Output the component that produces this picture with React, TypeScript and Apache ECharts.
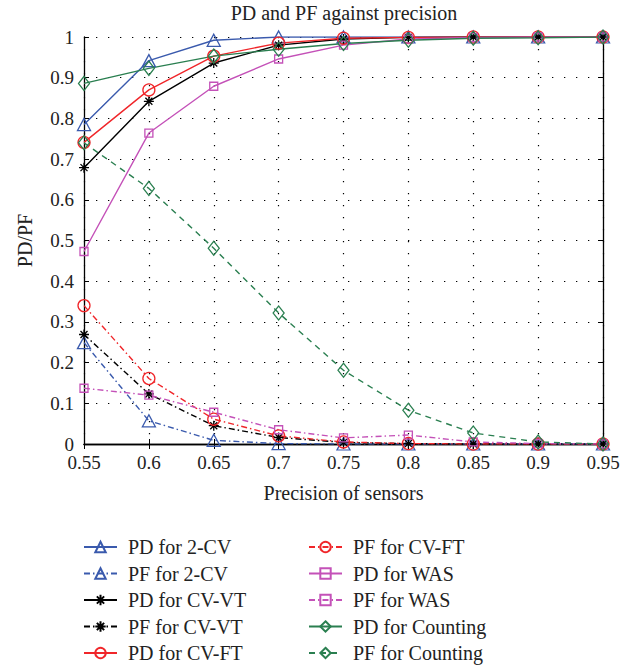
import React, { useEffect, useRef } from "react";
import * as echarts from "echarts";

// Precision of sensors (x axis)
const precision = ["0.55", "0.6", "0.65", "0.7", "0.75", "0.8", "0.85", "0.9", "0.95"];

// Probability of detection (PD) and of false alarm (PF) per scheme
const pd2cv = [0.785, 0.942, 0.992, 1, 1, 1, 1, 1, 1];
const pf2cv = [0.249, 0.057, 0.009, 0.001, 0, 0, 0, 0, 0];
const pdCvVt = [0.679, 0.842, 0.936, 0.98, 0.995, 0.999, 1, 1, 1];
const pfCvVt = [0.269, 0.123, 0.045, 0.016, 0.004, 0.001, 0, 0, 0];
const pdCvFt = [0.741, 0.87, 0.953, 0.985, 0.997, 0.999, 1, 1, 1];
const pfCvFt = [0.34, 0.161, 0.061, 0.02, 0.005, 0.001, 0, 0, 0];
const pdWas = [0.473, 0.764, 0.879, 0.946, 0.98, 0.995, 0.999, 1, 1];
const pfWas = [0.137, 0.12, 0.078, 0.035, 0.015, 0.022, 0.005, 0.001, 0];
const pdCounting = [0.886, 0.923, 0.953, 0.97, 0.984, 0.992, 0.997, 0.998, 1];
const pfCounting = [0.74, 0.628, 0.481, 0.322, 0.181, 0.083, 0.027, 0.005, 0];

const legendLeft = ["PD for 2-CV", "PF for 2-CV", "PD for CV-VT", "PF for CV-VT", "PD for CV-FT"];
const legendRight = ["PF for CV-FT", "PD for WAS", "PF for WAS", "PD for Counting", "PF for Counting"];

const BLUE = "#3a5aad";
const BLACK = "#000000";
const RED = "#f0262a";
const MAGENTA = "#c451b8";
const GREEN = "#2a7f50";

const FONT = "Liberation Serif";
const TEXT = "#222";

// eight-armed asterisk marker
const ASTERISK =
  "path://M5 0 L5 10 M0 5 L10 5 M1.5 1.5 L8.5 8.5 M1.5 8.5 L8.5 1.5";

const DASH_DOT = [6, 3, 1.5, 3];
const DASHED = [6, 5];
const GRID_DOTS = [1.3, 10.7];

type Spec = {
  name: string;
  data: number[];
  color: string;
  symbol: string;
  size: number | number[];
  dash: "solid" | number[];
};

const specs: Spec[] = [
  { name: "PD for 2-CV", data: pd2cv, color: BLUE, symbol: "triangle", size: [13, 12], dash: "solid" },
  { name: "PF for 2-CV", data: pf2cv, color: BLUE, symbol: "triangle", size: [13, 12], dash: DASH_DOT },
  { name: "PD for CV-VT", data: pdCvVt, color: BLACK, symbol: ASTERISK, size: 10, dash: "solid" },
  { name: "PF for CV-VT", data: pfCvVt, color: BLACK, symbol: ASTERISK, size: 10, dash: DASH_DOT },
  { name: "PD for CV-FT", data: pdCvFt, color: RED, symbol: "circle", size: 12, dash: "solid" },
  { name: "PF for CV-FT", data: pfCvFt, color: RED, symbol: "circle", size: 12, dash: DASH_DOT },
  { name: "PD for WAS", data: pdWas, color: MAGENTA, symbol: "rect", size: 8, dash: "solid" },
  { name: "PF for WAS", data: pfWas, color: MAGENTA, symbol: "rect", size: 8, dash: DASH_DOT },
  { name: "PD for Counting", data: pdCounting, color: GREEN, symbol: "diamond", size: [11, 14], dash: "solid" },
  { name: "PF for Counting", data: pfCounting, color: GREEN, symbol: "diamond", size: [11, 14], dash: DASHED },
];

export default function App() {
  const ref = useRef<HTMLDivElement>(null);

  useEffect(() => {
    if (!ref.current) return;
    const chart = echarts.init(ref.current, undefined, { renderer: "svg" });

    const series = specs.map((s) => ({
      name: s.name,
      type: "line",
      xAxisIndex: 0,
      yAxisIndex: 0,
      data: s.data,
      symbol: s.symbol,
      symbolSize: s.size,
      showAllSymbol: true,
      lineStyle: { color: s.color, width: 1.4, type: s.dash },
      itemStyle: {
        color: s.symbol === ASTERISK ? s.color : "rgba(255,255,255,0)",
        borderColor: s.color,
        borderWidth: 1.3,
      },
      emphasis: { disabled: true },
    }));

    const legendBase = {
      orient: "vertical",
      padding: 0,
      itemWidth: 33,
      itemHeight: 13,
      itemGap: 6.5,
      height: 140,
      textStyle: {
        fontFamily: FONT,
        fontSize: 20,
        color: TEXT,
        lineHeight: 20,
        padding: [0, 0, 0, 6],
      },
      selectedMode: false,
    };

    chart.setOption({
      animation: false,
      backgroundColor: "#fff",
      title: {
        text: "PD and PF against precision",
        left: 344,
        top: 3,
        padding: 0,
        textAlign: "center",
        textStyle: { fontFamily: FONT, fontSize: 20, fontWeight: "normal", color: TEXT },
      },
      legend: [
        { ...legendBase, data: legendLeft, left: 83, top: 537 },
        { ...legendBase, data: legendRight, left: 308, top: 537 },
      ],
      grid: { left: 84, right: 36, top: 37, bottom: 226, containLabel: false },
      xAxis: [
        {
          type: "category",
          data: precision,
          boundaryGap: false,
          name: "Precision of sensors",
          nameLocation: "middle",
          nameGap: 39,
          nameTextStyle: { fontFamily: FONT, fontSize: 20, color: TEXT },
          axisLine: { lineStyle: { color: "#000", width: 1.3 } },
          axisTick: { inside: true, length: 5, lineStyle: { color: "#000" } },
          axisLabel: { fontFamily: FONT, fontSize: 19, color: TEXT, margin: 9 },
          splitLine: { show: true, lineStyle: { color: "#000", width: 1.2, type: GRID_DOTS } },
        },
        {
          type: "category",
          data: precision,
          boundaryGap: false,
          position: "top",
          axisLine: { lineStyle: { color: "#000", width: 1.3 } },
          axisTick: { inside: true, length: 5, lineStyle: { color: "#000" } },
          axisLabel: { show: false },
          splitLine: { show: false },
        },
      ],
      yAxis: [
        {
          type: "value",
          min: 0,
          max: 1,
          interval: 0.1,
          name: "PD/PF",
          nameLocation: "middle",
          nameGap: 49,
          nameTextStyle: { fontFamily: FONT, fontSize: 20, color: TEXT },
          axisLine: { show: true, lineStyle: { color: "#000", width: 1.3 } },
          axisTick: { show: true, inside: true, length: 5, lineStyle: { color: "#000" } },
          axisLabel: {
            fontFamily: FONT,
            fontSize: 19,
            color: TEXT,
            margin: 10,
            formatter: (v: number) => String(Math.round(v * 10) / 10),
          },
          splitLine: { show: true, lineStyle: { color: "#000", width: 1.2, type: GRID_DOTS } },
        },
        {
          type: "value",
          min: 0,
          max: 1,
          interval: 0.1,
          position: "right",
          axisLine: { show: true, lineStyle: { color: "#000", width: 1.3 } },
          axisTick: { show: true, inside: true, length: 5, lineStyle: { color: "#000" } },
          axisLabel: { show: false },
          splitLine: { show: false },
        },
      ],
      series,
    });

    return () => chart.dispose();
  }, []);

  return (
    <div
      ref={ref}
      style={{ position: "absolute", left: 0, top: 0, width: 639, height: 670 }}
    />
  );
}
